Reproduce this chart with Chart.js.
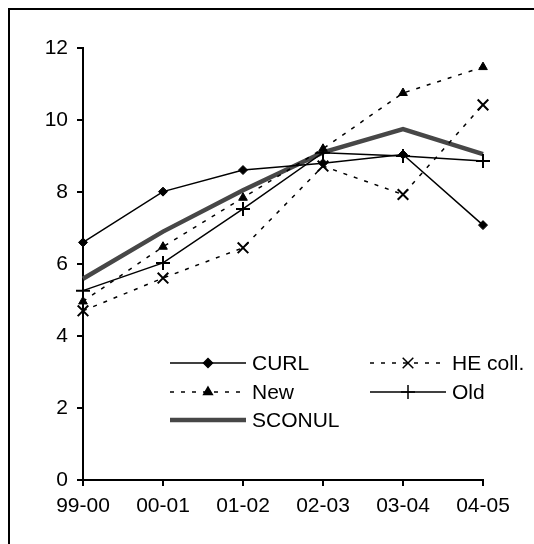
<!DOCTYPE html>
<html>
<head>
<meta charset="utf-8">
<script src="https://cdn.jsdelivr.net/npm/chart.js@4.4.1/dist/chart.umd.min.js"></script>
<style>
  html, body { margin: 0; padding: 0; background: #fff; }
  #wrap { position: relative; width: 534px; height: 544px; overflow: hidden; }
  #frame { position: absolute; left: 8px; top: 8px; width: 600px; height: 600px;
           border-left: 2px solid #000; border-top: 2px solid #000; }
  #chart { position: absolute; left: 0; top: 0; }
</style>
</head>
<body>
<div id="wrap">
  <div id="frame"></div>
  <canvas id="chart" width="534" height="544"></canvas>
</div>
<script>
// years on the x axis
const years = ['99-00', '00-01', '01-02', '02-03', '03-04', '04-05'];

// series values
const curl   = [6.60, 8.01, 8.61, 8.80, 9.04, 7.08];
const heColl = [4.70, 5.61, 6.45, 8.72, 7.93, 10.42];
const newU   = [4.96, 6.48, 7.84, 9.20, 10.75, 11.47];
const oldU   = [5.26, 6.03, 7.53, 9.09, 9.00, 8.86];
const sconul = [5.59, 6.90, 8.05, 9.10, 9.75, 9.05];

const yTicks = [0, 2, 4, 6, 8, 10, 12];

const FONT = '"Liberation Sans", Arial, sans-serif';
const FSIZE = 21;
const dots = [4, 7];

const datasets = [
  { label: 'CURL', data: curl, borderColor: '#000', backgroundColor: '#000',
    borderWidth: 1.5, pointStyle: 'rectRot', pointRadius: 4.5, pointBorderWidth: 1 },
  { label: 'HE coll.', data: heColl, borderColor: '#000', backgroundColor: '#000',
    borderWidth: 1.5, borderDash: dots, pointStyle: 'crossRot', pointRadius: 7.5, pointBorderWidth: 2 },
  { label: 'New', data: newU, borderColor: '#000', backgroundColor: '#000',
    borderWidth: 1.5, borderDash: dots, pointStyle: 'triangle', pointRadius: 5, pointBorderWidth: 1 },
  { label: 'Old', data: oldU, borderColor: '#000', backgroundColor: '#000',
    borderWidth: 1.5, pointStyle: 'cross', pointRadius: 7, pointBorderWidth: 2 },
  { label: 'SCONUL', data: sconul, borderColor: '#474747', backgroundColor: '#474747',
    borderWidth: 4.5, pointRadius: 0 }
];
datasets.forEach(d => { d.tension = 0; d.fill = false; d.pointHoverRadius = d.pointRadius; });

// legend in two columns inside the plot, drawn by hand
const legendBox = {
  id: 'legendBox',
  afterDraw(chart) {
    const ctx = chart.ctx;
    const cols = [170, 370];
    const rows = [363, 392, 420];
    ctx.save();
    chart.data.datasets.forEach((ds, i) => {
      const x0 = cols[i % 2], y = rows[Math.floor(i / 2)];
      const x1 = x0 + 76;
      ctx.beginPath();
      ctx.setLineDash(ds.borderDash || []);
      ctx.lineWidth = ds.borderWidth;
      ctx.strokeStyle = ds.borderColor;
      ctx.moveTo(x0, y);
      ctx.lineTo(x1, y);
      ctx.stroke();
      ctx.setLineDash([]);
      if (ds.pointRadius > 0) {
        ctx.fillStyle = '#000';
        ctx.strokeStyle = '#000';
        Chart.helpers.drawPoint(ctx, {
          pointStyle: ds.pointStyle, radius: ds.pointRadius, rotation: 0,
          borderWidth: ds.pointBorderWidth
        }, (x0 + x1) / 2, y);
      }
      ctx.fillStyle = '#000';
      ctx.font = FSIZE + 'px ' + FONT;
      ctx.textBaseline = 'middle';
      ctx.textAlign = 'left';
      ctx.fillText(ds.label, x1 + 6, y + 1);
    });
    ctx.restore();
  }
};

new Chart(document.getElementById('chart'), {
  type: 'line',
  data: { labels: years, datasets },
  plugins: [legendBox],
  options: {
    responsive: false,
    animation: false,
    devicePixelRatio: 1,
    layout: { padding: { top: 48, right: 51, left: 0, bottom: 0 } },
    plugins: { legend: { display: false }, tooltip: { enabled: false } },
    elements: { point: { borderColor: '#000', backgroundColor: '#000' } },
    scales: {
      x: {
        offset: false,
        grid: { display: true, drawOnChartArea: false, offset: false, color: '#000',
                lineWidth: 2, tickLength: 6 },
        border: { display: true, color: '#000', width: 2 },
        ticks: { color: '#000', font: { family: FONT, size: FSIZE }, padding: 8,
                 maxRotation: 0, autoSkip: false },
        afterFit(scale) { scale.height = 64; }
      },
      y: {
        min: 0, max: 12,
        afterBuildTicks(scale) { scale.ticks = yTicks.map(v => ({ value: v })); },
        grid: { display: true, drawOnChartArea: false, color: '#000', lineWidth: 2, tickLength: 6 },
        border: { display: true, color: '#000', width: 2 },
        ticks: { color: '#000', font: { family: FONT, size: FSIZE }, padding: 9 },
        afterFit(scale) { scale.width = 83; }
      }
    }
  }
});
</script>
</body>
</html>
